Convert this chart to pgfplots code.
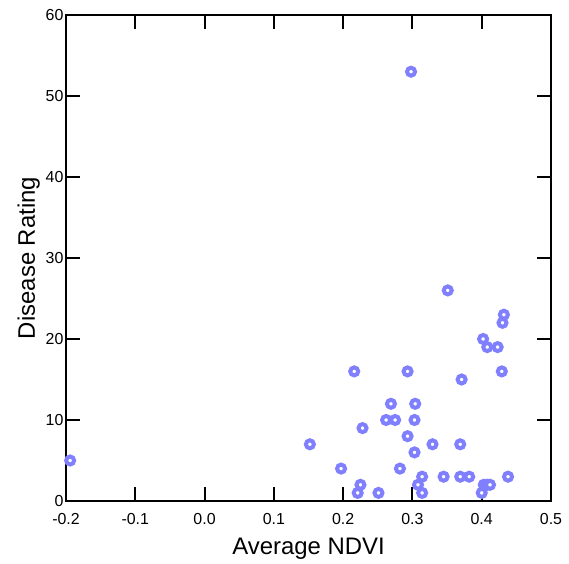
\documentclass[border=0pt]{standalone}
\usepackage{fontspec}
\setmainfont{Liberation Sans}
\usepackage{pgfplots}
\pgfplotsset{compat=1.18}
\definecolor{ptblue}{RGB}{128,128,255}

\begin{document}
\begin{tikzpicture}
\begin{axis}[
    width=485bp, height=486bp, scale only axis,
    xmin=-0.2, xmax=0.5,
    ymin=0, ymax=60,
    clip=false,
    xtick={-0.2,-0.1,0,0.1,0.2,0.3,0.4,0.5},
    xticklabels={-0.2,-0.1,0.0,0.1,0.2,0.3,0.4,0.5},
    ytick={0,10,20,30,40,50,60},
    /pgf/number format/assume math mode=true,
    tick align=inside,
    major tick length=14bp,
    axis line style={line width=2bp},
    every tick/.style={black, line width=2bp},
    tick label style={font=\fontsize{16}{19}\selectfont},
    xticklabel style={yshift=-9bp},
    yticklabel style={xshift=1bp},
    label style={font=\fontsize{24}{28}\selectfont},
    xlabel={Average NDVI},
    ylabel={Disease Rating},
    xlabel style={at={(axis description cs:0.5,-0.111)}, anchor=base},
    ylabel style={at={(axis description cs:-0.064,0.5)}, anchor=base},
]
% invisible frame: gives the picture the reference's margins
\path (rel axis cs:0,0) ++(-66bp,-59bp);
\path (rel axis cs:1,1) ++(18bp,15bp);
\addplot[only marks, mark=*, mark size=4bp,
    mark options={draw=ptblue, fill=white, line width=4bp}]
coordinates {
    (-0.194,5) (0.298,53) (0.351,26) (0.432,23) (0.430,22)
    (0.402,20) (0.408,19) (0.423,19) (0.216,16) (0.293,16)
    (0.429,16) (0.371,15) (0.269,12) (0.304,12) (0.262,10)
    (0.275,10) (0.303,10) (0.228,9) (0.293,8) (0.152,7)
    (0.329,7) (0.369,7) (0.303,6) (0.197,4) (0.282,4)
    (0.314,3) (0.345,3) (0.369,3) (0.382,3) (0.438,3)
    (0.225,2) (0.308,2) (0.403,2) (0.408,2) (0.412,2)
    (0.221,1) (0.251,1) (0.314,1) (0.400,1)
};
\end{axis}
\end{tikzpicture}
\end{document}
